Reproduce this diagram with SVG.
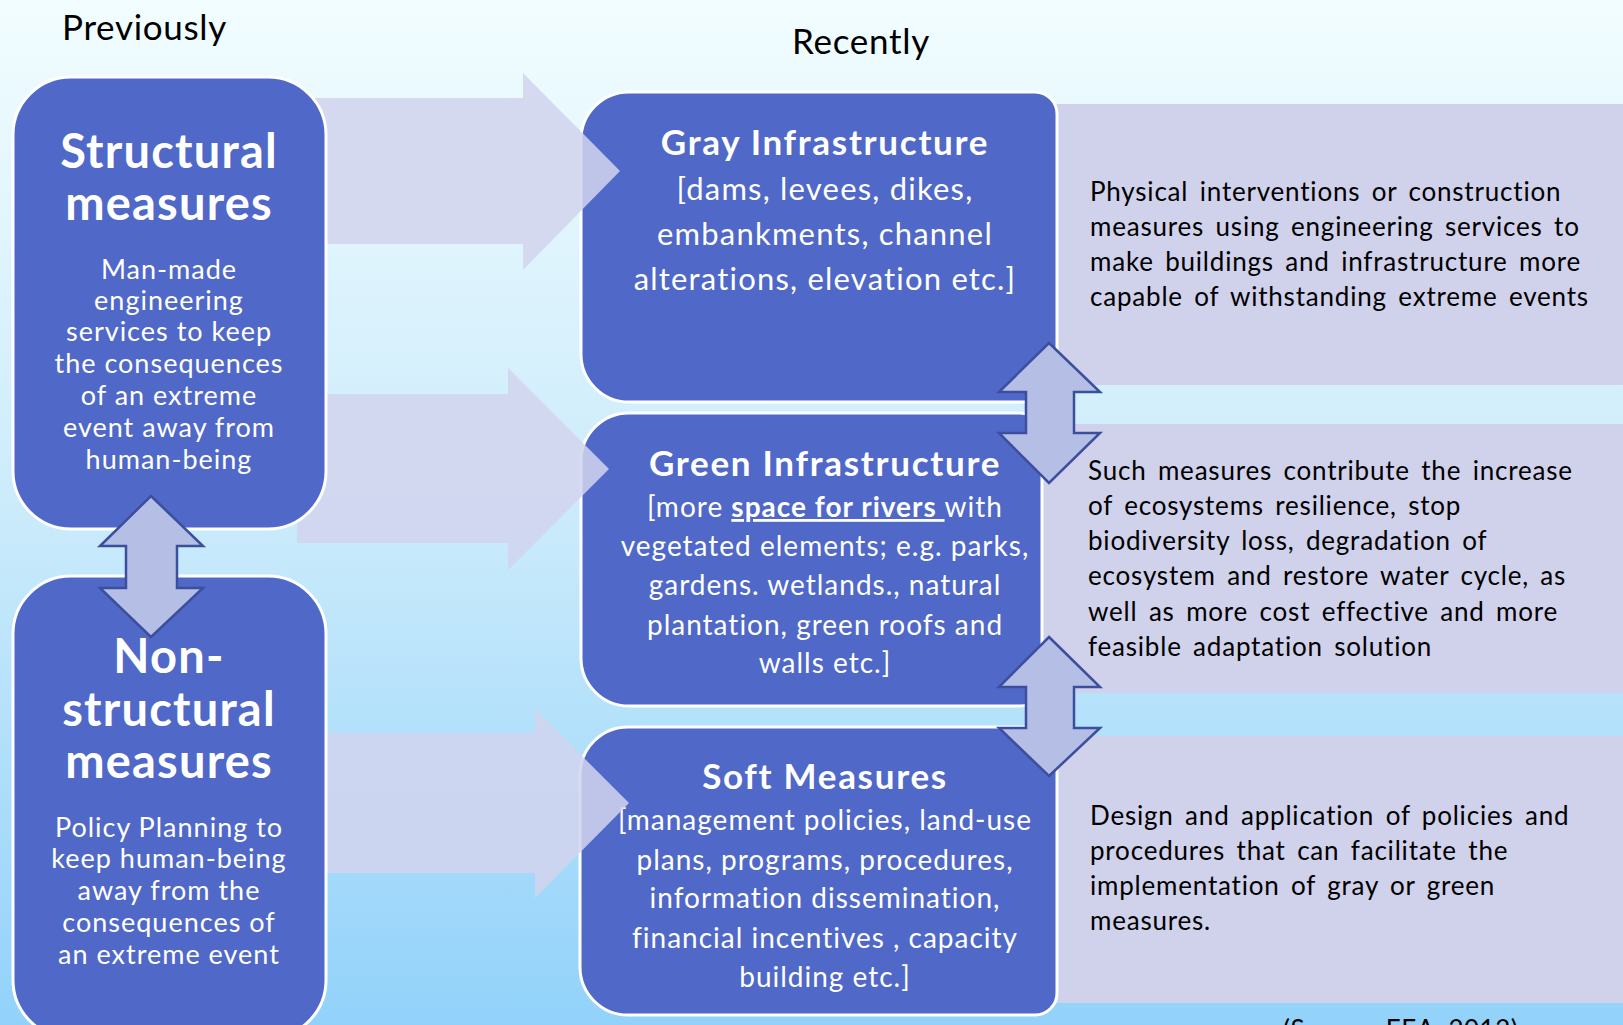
<svg xmlns="http://www.w3.org/2000/svg" width="1623" height="1025" viewBox="0 0 1623 1025">
<defs>
<linearGradient id="bg" x1="0" y1="0" x2="0" y2="1">
<stop offset="0" stop-color="#F2FDFF"/>
<stop offset="0.5" stop-color="#CBEBFB"/>
<stop offset="1" stop-color="#92D2FA"/>
</linearGradient>
<style>
text{font-family:Lato,"Open Sans","DejaVu Sans",sans-serif}
.title{font-size:35px;fill:#000;letter-spacing:0.7px}
.box{fill:#5068C8;stroke:#FFFFFF;stroke-width:3}
.panel{fill:#D0D1EB}
.big{fill:#D2D4EE;fill-opacity:0.86}
.dbl{fill:#B5BFE5;stroke:#3B4F9E;stroke-width:2.5;stroke-linejoin:miter}
.lh{font-size:47px;font-weight:bold;fill:#fff;text-anchor:middle;letter-spacing:1.2px}
.lb{font-size:27px;fill:#fff;text-anchor:middle;letter-spacing:1px}
.mh{font-size:35px;font-weight:bold;fill:#fff;text-anchor:middle;letter-spacing:1.7px}
.mb{font-size:31px;fill:#fff;text-anchor:middle;letter-spacing:1.2px}
.gb{font-size:28px;fill:#fff;text-anchor:middle;letter-spacing:1px}
.pt{font-size:26px;fill:#000;letter-spacing:0.8px;word-spacing:4px}
.src{font-size:26px;fill:#000;letter-spacing:0.5px}
</style>
</defs>
<rect x="0" y="0" width="1623" height="1025" fill="url(#bg)"/>
<text class="title" x="62" y="40">Previously</text>
<text class="title" x="792" y="54">Recently</text>

<g id="panel-gray-desc">
<rect class="panel" x="1000" y="104" width="623" height="281"/>
<text class="pt" x="1090" y="201">Physical interventions or construction</text>
<text class="pt" x="1090" y="236">measures using engineering services to</text>
<text class="pt" x="1090" y="271">make buildings and infrastructure more</text>
<text class="pt" x="1090" y="306">capable of withstanding extreme events</text>
</g>
<g id="panel-green-desc">
<rect class="panel" x="1000" y="424" width="623" height="269"/>
<text class="pt" x="1088" y="480">Such measures contribute the increase</text>
<text class="pt" x="1088" y="515">of ecosystems resilience, stop</text>
<text class="pt" x="1088" y="550">biodiversity loss, degradation of</text>
<text class="pt" x="1088" y="585">ecosystem and restore water cycle, as</text>
<text class="pt" x="1088" y="621">well as more cost effective and more</text>
<text class="pt" x="1088" y="656">feasible adaptation solution</text>
</g>
<g id="panel-soft-desc">
<rect class="panel" x="1000" y="736" width="623" height="267"/>
<text class="pt" x="1090" y="825">Design and application of policies and</text>
<text class="pt" x="1090" y="860">procedures that can facilitate the</text>
<text class="pt" x="1090" y="895">implementation of gray or green</text>
<text class="pt" x="1090" y="930">measures.</text>
</g>
<text class="src" x="1283" y="1039">(Source: EEA, 2012)</text>

<g id="gray-infrastructure">
<path class="box" d="M629 92H1035A22 22 0 0 1 1057 114V380A22 22 0 0 1 1035 402H629A48 48 0 0 1 581 354V140A48 48 0 0 1 629 92Z"/>
<text class="mh" x="825" y="155">Gray Infrastructure</text>
<text class="mb" x="825" y="200">[dams, levees, dikes,</text>
<text class="mb" x="825" y="245">embankments, channel</text>
<text class="mb" x="825" y="290">alterations, elevation etc.]</text>
</g>
<g id="green-infrastructure">
<path class="box" d="M629 413H1020A22 22 0 0 1 1042 435V684A22 22 0 0 1 1020 706H629A48 48 0 0 1 581 658V461A48 48 0 0 1 629 413Z"/>
<text class="mh" x="825" y="476">Green Infrastructure</text>
<text class="gb" x="825" y="517">[more <tspan font-weight="bold" text-decoration="underline">space for rivers </tspan>with</text>
<text class="gb" x="825" y="556">vegetated elements; e.g. parks,</text>
<text class="gb" x="825" y="595">gardens. wetlands., natural</text>
<text class="gb" x="825" y="635">plantation, green roofs and</text>
<text class="gb" x="825" y="673">walls etc.]</text>
</g>
<g id="soft-measures">
<path class="box" d="M628 727H1035A22 22 0 0 1 1057 749V993A22 22 0 0 1 1035 1015H628A48 48 0 0 1 580 967V775A48 48 0 0 1 628 727Z"/>
<text class="mh" x="825" y="789">Soft Measures</text>
<text class="gb" x="825" y="830">[management policies, land-use</text>
<text class="gb" x="825" y="870">plans, programs, procedures,</text>
<text class="gb" x="825" y="908">information dissemination,</text>
<text class="gb" x="825" y="948">financial incentives , capacity</text>
<text class="gb" x="825" y="987">building etc.]</text>
</g>

<g id="connectors">
<path class="big" d="M300 98H523V73L620 171L523 270V244H300Z"/>
<path class="big" d="M297 394H508V368L609 469L508 570V543H297Z"/>
<path class="big" d="M300 733H535V709L629 803L535 898V873H300Z"/>
</g>

<g id="structural-measures">
<rect class="box" x="13" y="77" width="313" height="452" rx="58" ry="58"/>
<text class="lh" x="169" y="168">Structural</text>
<text class="lh" x="169" y="220">measures</text>
<text class="lb" x="169" y="279">Man-made</text>
<text class="lb" x="169" y="310">engineering</text>
<text class="lb" x="169" y="341">services to keep</text>
<text class="lb" x="169" y="373">the consequences</text>
<text class="lb" x="169" y="405">of an extreme</text>
<text class="lb" x="169" y="437">event away from</text>
<text class="lb" x="169" y="469">human-being</text>
</g>
<g id="non-structural-measures">
<rect class="box" x="13" y="576" width="313" height="462" rx="58" ry="58"/>
<text class="lh" x="169" y="673">Non-</text>
<text class="lh" x="169" y="726">structural</text>
<text class="lh" x="169" y="778">measures</text>
<text class="lb" x="169" y="837">Policy Planning to</text>
<text class="lb" x="169" y="868">keep human-being</text>
<text class="lb" x="169" y="900">away from the</text>
<text class="lb" x="169" y="932">consequences of</text>
<text class="lb" x="169" y="964">an extreme event</text>
</g>

<g id="double-arrows">
<path class="dbl" d="M151 496L203 546H177V588H203L151 637L100 588H126V546H100Z"/>
<path class="dbl" d="M1049 343L1100 392H1074V433H1100L1049 483L999 433H1026V392H999Z"/>
<path class="dbl" d="M1049 637L1100 687H1074V728H1100L1049 776L999 728H1026V687H999Z"/>
</g>
</svg>
